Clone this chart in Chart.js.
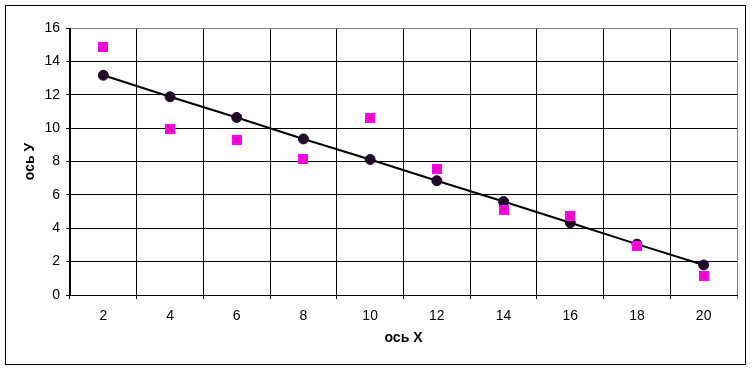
<!DOCTYPE html>
<html>
<head>
<meta charset="utf-8">
<script src="https://cdn.jsdelivr.net/npm/chart.js@4/dist/chart.umd.min.js"></script>
<style>
html,body{margin:0;padding:0;background:#fff;}
#wrap{width:753px;height:370px;position:relative;}
</style>
</head>
<body>
<div id="wrap"><canvas id="c" width="753" height="370"></canvas></div>
<script>
const categories = ['2','4','6','8','10','12','14','16','18','20'];
const observed = [14.84, 9.95, 9.29, 8.13, 10.6, 7.55, 5.12, 4.73, 2.92, 1.12];
const fitted = [13.17, 11.88, 10.64, 9.35, 8.12, 6.85, 5.6, 4.33, 3.05, 1.8];
const yTicks = [0, 2, 4, 6, 8, 10, 12, 14, 16];

// Excel-like square marker with faint cross
function makeSquare() {
  const s = 10;
  const cv = document.createElement('canvas');
  cv.width = s; cv.height = s;
  const c = cv.getContext('2d');
  c.fillStyle = '#FF00FF';
  c.fillRect(0, 0, s, s);
  c.strokeStyle = '#E0107A';
  c.lineWidth = 1.2;
  c.beginPath();
  c.moveTo(2, 2); c.lineTo(s - 2, s - 2);
  c.moveTo(s - 2, 2); c.lineTo(2, s - 2);
  c.stroke();
  return cv;
}
const squareImg = makeSquare();

const frame = {
  id: 'frame',
  afterDraw(chart) {
    const ctx = chart.ctx;
    ctx.save();
    ctx.strokeStyle = '#000';
    ctx.lineWidth = 1;
    ctx.strokeRect(5.5, 5.5, 740, 359);
    ctx.restore();
  }
};

new Chart(document.getElementById('c'), {
  type: 'line',
  data: {
    labels: categories,
    datasets: [
      {
        label: 'fit',
        data: fitted,
        borderColor: '#000',
        borderWidth: 2,
        pointStyle: 'circle',
        pointRadius: 5,
        pointBackgroundColor: '#22082a',
        pointBorderColor: '#22082a',
        pointBorderWidth: 1,
        tension: 0,
        order: 1
      },
      {
        label: 'data',
        data: observed,
        showLine: false,
        pointStyle: squareImg,
        pointRadius: 5,
        order: 0
      }
    ]
  },
  options: {
    responsive: false,
    animation: false,
    devicePixelRatio: 1,
    layout: { padding: { left: 0, right: 16, top: 28, bottom: 0 } },
    plugins: { legend: { display: false }, tooltip: { enabled: false } },
    scales: {
      x: {
        type: 'category',
        offset: true,
        grid: {
          offset: true,
          color: (ctx) => ctx.index === undefined ? '#808080' : '#000',
          tickColor: (ctx) => ctx.index === undefined ? '#808080' : '#000',
          lineWidth: 1,
          drawTicks: true,
          tickLength: 4
        },
        border: { color: '#000', width: 1 },
        ticks: {
          color: '#000',
          font: { family: 'Liberation Sans', size: 14 },
          padding: 9,
          maxRotation: 0,
          autoSkip: false
        },
        title: {
          display: true,
          text: 'ось X',
          color: '#000',
          font: { family: 'Liberation Sans', size: 14, weight: 'bold' },
          padding: { top: 0, bottom: 23 }
        },
        afterFit: (s) => { s.height = 75; }
      },
      y: {
        min: 0,
        max: 16,
        afterBuildTicks: (s) => { s.ticks = yTicks.map(v => ({ value: v })); },
        grid: {
          color: (ctx) => (ctx.tick && ctx.tick.value === 16) ? '#808080' : '#000',
          lineWidth: 1,
          drawTicks: true,
          tickLength: 4,
          tickColor: '#000'
        },
        border: { color: '#000', width: 1 },
        ticks: {
          color: '#000',
          font: { family: 'Liberation Sans', size: 14 },
          padding: 6
        },
        title: {
          display: true,
          text: 'ось У',
          color: '#000',
          font: { family: 'Liberation Sans', size: 14, weight: 'bold' },
          padding: { top: 22, bottom: 0 }
        },
        afterFit: (s) => { s.width = 70; }
      }
    }
  },
  plugins: [frame]
});
</script>
</body>
</html>
